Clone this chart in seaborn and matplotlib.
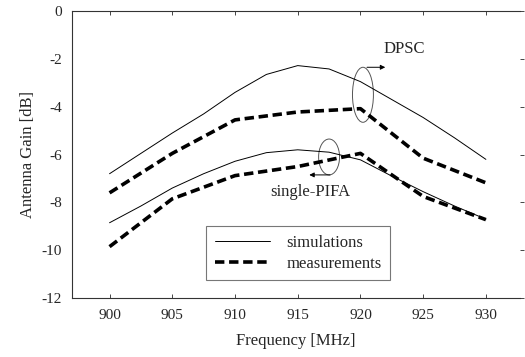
import matplotlib
matplotlib.use("Agg")
import matplotlib.pyplot as plt
import seaborn as sns
import pandas as pd
from matplotlib.patches import Ellipse

# simulated curves (read off every 2.5 MHz)
freq_sim = [900, 902.5, 905, 907.5, 910, 912.5, 915, 917.5, 920, 922.5, 925, 927.5, 930]
dpsc_sim = [-6.8, -5.95, -5.1, -4.3, -3.4, -2.65, -2.28, -2.42, -2.95, -3.7, -4.45, -5.3, -6.2]
pifa_sim = [-8.85, -8.15, -7.4, -6.8, -6.28, -5.92, -5.8, -5.9, -6.22, -6.9, -7.55, -8.15, -8.7]

# measured points
freq_meas = [900, 905, 910, 915, 920, 925, 930]
dpsc_meas = [-7.6, -5.95, -4.55, -4.22, -4.08, -6.15, -7.18]
pifa_meas = [-9.85, -7.85, -6.88, -6.5, -5.95, -7.75, -8.72]

y_ticks = [0, -2, -4, -6, -8, -10, -12]
x_ticks = [900, 905, 910, 915, 920, 925, 930]

sns.set_theme(style="ticks")
plt.rcParams['font.family'] = ['Liberation Serif', 'DejaVu Serif']
plt.rcParams['axes.unicode_minus'] = False

fig = plt.figure(figsize=(5.25, 3.57), dpi=100)
ax = fig.add_axes([0.137, 0.165, 0.853, 0.804])

sim = pd.DataFrame({'f': freq_sim, 'DPSC': dpsc_sim, 'PIFA': pifa_sim})
meas = pd.DataFrame({'f': freq_meas, 'DPSC': dpsc_meas, 'PIFA': pifa_meas})

sns.lineplot(data=sim, x='f', y='DPSC', ax=ax, color='black', linewidth=0.7, label='simulations')
sns.lineplot(data=sim, x='f', y='PIFA', ax=ax, color='black', linewidth=0.7, label='_nolegend_')
sns.lineplot(data=meas, x='f', y='DPSC', ax=ax, color='black', linewidth=2.6,
             linestyle=(0, (2.6, 1.3)), label='measurements')
sns.lineplot(data=meas, x='f', y='PIFA', ax=ax, color='black', linewidth=2.6,
             linestyle=(0, (2.6, 1.3)), label='_nolegend_')

ax.set_xlim(897, 932.7)
ax.set_ylim(-12, 0)
ax.set_xticks(x_ticks)
ax.set_yticks(y_ticks)
ax.set_xticklabels([str(t) for t in x_ticks], fontsize=11)
ax.set_yticklabels([str(t) for t in y_ticks], fontsize=11)
ax.tick_params(axis='x', direction='in', top=True, length=3, width=0.6, pad=8)
ax.tick_params(axis='y', direction='out', right=True, left=False, length=3, width=0.6, pad=4)
ax.set_xlabel('Frequency [MHz]', fontsize=12, labelpad=8)
ax.set_ylabel('Antenna Gain [dB]', fontsize=12, labelpad=4)

for side in ['top', 'bottom', 'left']:
    ax.spines[side].set_linewidth(0.8)
    ax.spines[side].set_color('#333333')
ax.spines['right'].set_visible(False)

# DPSC group marker
ax.add_patch(Ellipse((920.2, -3.5), 1.67, 2.3, fill=False, edgecolor='#555555', linewidth=0.7))
ax.annotate('', xy=(922.2, -2.35), xytext=(920.3, -2.35),
            arrowprops=dict(arrowstyle='-|>', color='black', lw=0.7, mutation_scale=7))
ax.text(923.5, -1.6, 'DPSC', fontsize=12, ha='center', va='center')

# single-PIFA group marker
ax.add_patch(Ellipse((917.5, -6.1), 1.67, 1.5, fill=False, edgecolor='#555555', linewidth=0.7))
ax.annotate('', xy=(915.7, -6.85), xytext=(917.8, -6.85),
            arrowprops=dict(arrowstyle='-|>', color='black', lw=0.7, mutation_scale=7))
ax.text(916.0, -7.55, 'single-PIFA', fontsize=12, ha='center', va='center')

leg = ax.legend(loc='upper left', bbox_to_anchor=(0.30, 0.25), fontsize=12,
                frameon=True, fancybox=False, edgecolor='#555555', handlelength=3.3,
                handletextpad=1.0, borderpad=0.5, labelspacing=0.3, borderaxespad=0)
leg.get_frame().set_linewidth(0.8)

fig.savefig('out.png', dpi=100)
